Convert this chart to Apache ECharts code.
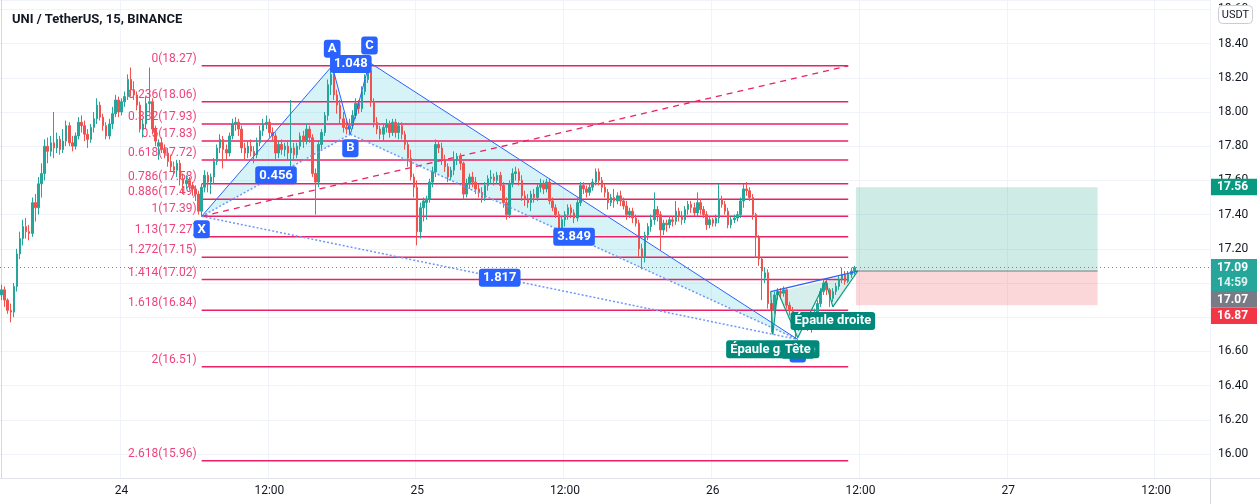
<!DOCTYPE html>
<html><head><meta charset="utf-8">
<script src="https://cdn.jsdelivr.net/npm/echarts@6/dist/echarts.min.js"></script>
<style>html,body{margin:0;padding:0;background:#fff}#c{width:1260px;height:504px}</style>
</head><body><div id="c"></div><script>
// ---------------- data ----------------
const ticker = 'UNI / TetherUS, 15, BINANCE';
const firstDay = 23;              // day of first slot
const firstSlotMinutes = 14 * 60 + 15; // 23 14:15
const slotCount = 393;            // 15-minute slots on the time axis (incl. future space)

// [open, close, low, high]
const candles = [
[16.93,16.96,16.90,16.99],[16.96,16.90,16.86,16.98],[16.90,16.84,16.82,16.91],[16.84,16.83,16.77,16.88],
[16.83,16.98,16.80,17.00],[16.98,17.17,16.95,17.20],[17.17,17.26,17.14,17.30],[17.26,17.33,17.22,17.37],
[17.33,17.30,17.26,17.38],[17.30,17.29,17.25,17.34],[17.29,17.47,17.27,17.50],[17.47,17.44,17.36,17.52],
[17.44,17.58,17.40,17.62],[17.58,17.64,17.50,17.70],[17.64,17.80,17.60,17.84],[17.80,17.77,17.70,17.85],
[17.77,17.82,17.74,17.86],[17.82,17.79,17.73,18.00],[17.79,17.84,17.76,17.88],[17.84,17.78,17.75,17.86],
[17.78,17.83,17.76,17.90],[17.83,17.92,17.80,17.95],[17.92,17.82,17.80,17.94],[17.82,17.80,17.77,17.86],
[17.80,17.86,17.78,17.88],[17.86,17.94,17.84,17.97],[17.94,17.92,17.88,17.98],[17.92,17.87,17.83,17.95],
[17.87,17.84,17.79,17.90],[17.84,17.91,17.82,17.93],[17.91,17.96,17.88,18.00],[17.96,18.04,17.93,18.08],
[18.04,17.97,17.95,18.06],[17.97,17.92,17.89,17.99],[17.92,17.86,17.84,17.94],[17.86,17.93,17.84,17.96],
[17.93,17.99,17.90,18.03],[17.99,18.07,17.97,18.10],[18.07,18.00,17.97,18.09],[18.00,18.06,17.98,18.08],
[18.06,18.09,18.03,18.12],[18.09,18.19,18.07,18.22],[18.19,18.13,18.09,18.26],[18.13,18.10,18.07,18.18],
[18.10,18.04,18.01,18.12],[18.04,17.90,17.88,18.06],[17.90,17.93,17.85,17.96],[17.93,18.05,17.90,18.09],
[18.05,18.06,18.00,18.26],[18.06,17.90,17.87,18.08],[17.90,17.83,17.80,17.92],[17.80,17.82,17.72,17.84],
[17.82,17.78,17.76,17.85],[17.78,17.76,17.73,17.81],[17.76,17.71,17.68,17.79],[17.71,17.68,17.65,17.75],
[17.68,17.66,17.63,17.71],[17.66,17.70,17.62,17.72],[17.70,17.61,17.57,17.72],[17.61,17.58,17.52,17.64],
[17.58,17.60,17.55,17.63],[17.60,17.57,17.54,17.62],[17.57,17.55,17.51,17.59],[17.55,17.52,17.48,17.57],
[17.52,17.42,17.40,17.54],[17.42,17.56,17.39,17.58],[17.56,17.63,17.53,17.66],[17.63,17.59,17.53,17.65],
[17.59,17.62,17.52,17.64],[17.62,17.71,17.58,17.73],[17.71,17.79,17.69,17.81],[17.79,17.84,17.76,17.87],
[17.84,17.78,17.67,17.86],[17.78,17.76,17.72,17.81],[17.76,17.86,17.74,17.88],[17.86,17.93,17.84,17.96],
[17.93,17.94,17.89,17.97],[17.94,17.90,17.86,17.96],[17.90,17.79,17.76,17.92],[17.79,17.76,17.72,17.82],
[17.76,17.80,17.73,17.83],[17.80,17.77,17.74,17.84],[17.77,17.75,17.70,17.80],[17.75,17.82,17.73,17.85],
[17.82,17.89,17.80,17.92],[17.89,17.93,17.86,17.96],[17.93,17.94,17.90,17.98],[17.94,17.88,17.85,17.96],
[17.88,17.86,17.83,17.91],[17.86,17.76,17.72,17.88],[17.76,17.81,17.73,17.83],[17.81,17.78,17.75,17.84],
[17.78,17.80,17.74,17.82],[17.80,17.76,17.72,17.83],[17.76,17.79,17.68,18.07],[17.79,17.75,17.72,17.82],
[17.75,17.80,17.73,17.82],[17.80,17.86,17.78,17.88],[17.86,17.83,17.79,17.89],[17.83,17.90,17.81,17.93],
[17.90,17.85,17.82,17.92],[17.85,17.64,17.62,17.87],[17.64,17.59,17.40,17.67],[17.59,17.81,17.56,17.83],
[17.81,17.88,17.78,17.90],[17.88,17.98,17.86,18.00],[17.98,18.16,17.95,18.19],[18.16,18.22,18.10,18.27],
[18.22,18.10,18.07,18.25],[18.10,18.04,17.99,18.13],[18.04,17.96,17.93,18.07],[17.96,17.91,17.88,18.00],
[17.91,17.90,17.87,17.95],[17.90,17.92,17.87,17.96],[17.92,17.98,17.90,18.01],[17.98,18.05,17.96,18.08],
[18.05,18.02,17.99,18.07],[18.02,18.12,18.00,18.15],[18.12,18.19,18.10,18.22],[18.19,18.24,18.17,18.29],
[18.24,18.06,18.03,18.26],[18.06,17.94,17.91,18.08],[17.94,17.90,17.87,17.97],[17.90,17.87,17.84,17.92],
[17.87,17.91,17.83,17.93],[17.91,17.93,17.88,17.96],[17.93,17.88,17.85,17.95],[17.88,17.94,17.86,17.96],
[17.94,17.88,17.85,17.96],[17.88,17.92,17.84,17.94],[17.92,17.87,17.84,17.94],[17.87,17.81,17.78,17.89],
[17.81,17.73,17.68,17.83],[17.73,17.62,17.60,17.78],[17.62,17.56,17.50,17.64],[17.56,17.30,17.22,17.60],
[17.30,17.44,17.26,17.47],[17.44,17.48,17.36,17.50],[17.47,17.49,17.37,17.51],[17.49,17.59,17.47,17.61],
[17.59,17.65,17.56,17.68],[17.65,17.81,17.62,17.84],[17.81,17.79,17.76,17.83],[17.79,17.72,17.69,17.82],
[17.72,17.68,17.65,17.75],[17.68,17.62,17.59,17.70],[17.62,17.66,17.60,17.68],[17.66,17.72,17.63,17.77],
[17.72,17.74,17.69,17.76],[17.74,17.70,17.66,17.76],[17.70,17.52,17.49,17.71],[17.52,17.58,17.50,17.61],
[17.58,17.62,17.55,17.64],[17.62,17.59,17.56,17.65],[17.59,17.55,17.52,17.62],[17.55,17.53,17.50,17.58],
[17.53,17.50,17.47,17.56],[17.50,17.57,17.48,17.59],[17.57,17.61,17.54,17.63],[17.61,17.62,17.58,17.66],
[17.62,17.60,17.57,17.64],[17.60,17.63,17.58,17.65],[17.63,17.57,17.54,17.65],[17.57,17.47,17.44,17.59],
[17.47,17.40,17.37,17.50],[17.40,17.58,17.38,17.60],[17.58,17.64,17.56,17.67],[17.64,17.65,17.60,17.68],
[17.65,17.60,17.57,17.67],[17.60,17.51,17.48,17.63],[17.51,17.49,17.45,17.54],[17.49,17.47,17.44,17.52],
[17.47,17.52,17.42,17.54],[17.52,17.50,17.47,17.55],[17.50,17.56,17.48,17.58],[17.56,17.58,17.53,17.61],
[17.58,17.55,17.52,17.60],[17.55,17.59,17.53,17.61],[17.59,17.48,17.46,17.61],[17.48,17.44,17.42,17.50],
[17.44,17.40,17.38,17.46],[17.40,17.32,17.29,17.42],[17.32,17.37,17.24,17.39],[17.37,17.40,17.33,17.42],
[17.40,17.44,17.37,17.46],[17.44,17.41,17.38,17.46],[17.41,17.38,17.35,17.43],[17.38,17.47,17.36,17.50],
[17.47,17.57,17.45,17.59],[17.57,17.55,17.52,17.59],[17.55,17.53,17.50,17.57],[17.53,17.56,17.51,17.58],
[17.56,17.59,17.54,17.61],[17.59,17.65,17.57,17.67],[17.65,17.60,17.57,17.67],[17.60,17.56,17.53,17.62],
[17.56,17.53,17.50,17.58],[17.53,17.47,17.43,17.55],[17.47,17.50,17.45,17.52],[17.50,17.48,17.44,17.55],
[17.48,17.51,17.46,17.53],[17.51,17.48,17.45,17.54],[17.48,17.45,17.43,17.50],[17.45,17.40,17.37,17.48],
[17.40,17.42,17.38,17.44],[17.42,17.38,17.35,17.44],[17.38,17.35,17.33,17.40],[17.35,17.20,17.15,17.37],
[17.20,17.15,17.08,17.23],[17.15,17.28,17.12,17.30],[17.28,17.33,17.25,17.35],[17.33,17.37,17.30,17.40],
[17.37,17.43,17.34,17.53],[17.43,17.40,17.36,17.45],[17.40,17.31,17.19,17.42],[17.31,17.35,17.28,17.37],
[17.35,17.34,17.30,17.37],[17.34,17.37,17.32,17.39],[17.37,17.36,17.33,17.39],[17.36,17.42,17.34,17.48],
[17.42,17.39,17.36,17.44],[17.39,17.37,17.34,17.42],[17.37,17.43,17.35,17.45],[17.43,17.46,17.40,17.48],
[17.46,17.44,17.41,17.48],[17.44,17.41,17.39,17.47],[17.41,17.47,17.39,17.53],[17.47,17.43,17.40,17.49],
[17.43,17.40,17.38,17.45],[17.40,17.34,17.31,17.42],[17.34,17.37,17.32,17.39],[17.37,17.35,17.33,17.38],
[17.35,17.38,17.33,17.40],[17.38,17.49,17.35,17.58],[17.49,17.46,17.44,17.51],[17.46,17.42,17.40,17.48],
[17.42,17.34,17.32,17.44],[17.34,17.37,17.32,17.39],[17.37,17.38,17.35,17.40],[17.38,17.40,17.36,17.42],
[17.40,17.48,17.38,17.50],[17.48,17.55,17.44,17.58],[17.55,17.54,17.51,17.59],[17.54,17.50,17.48,17.56],
[17.50,17.40,17.37,17.52],[17.40,17.27,17.15,17.41],[17.27,17.14,17.10,17.28],[17.14,17.07,16.90,17.15],
[17.03,17.06,17.00,17.09],[17.06,16.88,16.85,17.08],[16.88,16.84,16.71,16.90],[16.84,16.93,16.82,16.95],
[16.93,16.95,16.90,16.97],[16.95,16.94,16.91,16.97],[16.94,16.96,16.92,16.98],[16.96,16.87,16.85,16.97],
[16.87,16.84,16.81,16.89],[16.84,16.76,16.74,16.86],[16.76,16.75,16.67,16.79],[16.75,16.79,16.72,16.81],
[16.79,16.75,16.73,16.82],[16.75,16.79,16.73,16.81],[16.79,16.74,16.72,16.81],[16.74,16.76,16.71,16.78],
[16.76,16.83,16.74,16.85],[16.83,16.88,16.80,16.90],[16.88,16.95,16.86,16.97],[16.95,17.00,16.93,17.02],
[17.00,16.96,16.93,17.02],[16.96,16.91,16.86,16.97],[16.91,16.95,16.89,16.97],[16.95,16.98,16.93,17.00],
[16.98,17.02,16.96,17.04],[17.02,17.05,17.00,17.09],[17.05,17.01,16.99,17.07],[17.01,17.05,17.00,17.07],
[17.05,17.07,17.03,17.09],[17.07,17.09,17.05,17.10]
];

// Fibonacci retracement (drawn from X to the right)
const fibRatioText = ['0','0.236','0.382','0.5','0.618','0.786','0.886','1','1.13','1.272','1.414','1.618','2','2.618'];
const fibPrices = [18.27,18.06,17.93,17.83,17.72,17.58,17.49,17.39,17.27,17.15,17.02,16.84,16.51,15.96];
const fibFromBar = 65, fibToBar = 275;

// XABCD pattern
const xabcdNames = ['X','A','B','C','D'];
const xabcdBars = [65, 107.4, 113.3, 119.5, 258.6];
const xabcdPrices = [17.39, 18.27, 17.87, 18.29, 16.67];
const xabcdRatios = ['0.456','1.048','3.849','1.817']; // on XB, AC, BD, XD

// dashed trend line
const trendBars = [65, 275];
const trendPrices = [17.39, 18.27];

// Head & shoulders: start, left shoulder, neck 1, head, neck 2, right shoulder, end
const hsBars = [249.8, 250.5, 252.1, 258.6, 267.7, 270.0, 278.1];
const hsPrices = [16.95, 16.70, 16.95, 16.68, 17.01, 16.86, 17.07];
const hsNames = ['Épaule gauche', 'Tête', 'Épaule droite'];

// long position
const posBars = [277.5, 356];
const posTarget = 17.56, posEntry = 17.07, posStop = 16.87;

const lastPrice = 17.09, countdown = '14:59';

// ---------------- chart ----------------
const FONT = 'Roboto, "Noto Sans", sans-serif';
const slotLabels = [];
for (let i = 0; i < slotCount; i++) {
  const m = firstSlotMinutes + 15 * i;
  const d = firstDay + Math.floor(m / 1440);
  const mm = m % 1440;
  const hh = String(Math.floor(mm / 60)).padStart(2, '0');
  const mi = String(mm % 60).padStart(2, '0');
  slotLabels.push(d + ' ' + hh + ':' + mi);
}
const isMajor = v => v.endsWith(' 00:00') || v.endsWith(' 12:00');

const chart = echarts.init(document.getElementById('c'), null, {renderer: 'canvas'});

const BLUE = '#2962ff', BLUE_DOT = '#6f97f8', FIB = '#ec2163', TEAL = '#089981';

function pts(api, bars, prices) { return bars.map((b, k) => api.coord([b, prices[k]])); }
function boxText(text, x, y, bg, z) {
  return {type: 'text', z2: z || 0, style: {text, x, y, align: 'center', verticalAlign: 'middle',
    textAlign: 'center', textVerticalAlign: 'middle', fill: '#fff', font: 'bold 13px ' + FONT,
    backgroundColor: bg, padding: [3, 4, 2, 4], borderRadius: 3}};
}

const option = {
  animation: false,
  backgroundColor: '#ffffff',
  title: {text: ticker, left: 7, top: 8, textStyle: {fontSize: 13, fontWeight: 'bold', color: '#131722', fontFamily: FONT}},
  grid: {left: 0, right: 50, top: 0, bottom: 26, containLabel: false},
  xAxis: [{
    type: 'category', data: slotLabels, boundaryGap: true,
    axisLine: {lineStyle: {color: '#e0e3eb'}}, axisTick: {show: false},
    axisLabel: {interval: (i, v) => isMajor(v), formatter: v => v.endsWith(' 00:00') ? v.split(' ')[0] : '12:00',
      color: '#131722', fontSize: 12, fontFamily: FONT, margin: 7},
    splitLine: {show: true, interval: (i, v) => isMajor(v), lineStyle: {color: '#f0f3fa'}}
  }, {
    type: 'value', min: -0.5, max: slotCount - 0.5, show: false
  }],
  yAxis: {
    type: 'value', position: 'right', scale: true,
    min: 15.8596, max: 18.655, splitNumber: 14, minInterval: 0.2, maxInterval: 0.2,
    axisLine: {show: true, lineStyle: {color: '#d6d8de'}}, axisTick: {show: false},
    axisLabel: {showMinLabel: false, showMaxLabel: false, formatter: v => v.toFixed(2),
      color: '#131722', fontSize: 12, fontFamily: FONT, margin: 8},
    splitLine: {show: true, lineStyle: {color: '#f0f3fa'}}
  },
  graphic: [
    {type: 'rect', z: 100, shape: {x: 1218.5, y: 5.5, width: 34, height: 18, r: 4}, style: {fill: '#fff', stroke: '#c9ccd4', lineWidth: 1}},
    {type: 'text', z: 101, style: {text: 'USDT', x: 1235.5, y: 15, align: 'center', verticalAlign: 'middle', textAlign: 'center', textVerticalAlign: 'middle', fill: '#131722', font: '11px ' + FONT}},
    {type: 'line', z: 100, shape: {x1: 1210.5, y1: 478, x2: 1210.5, y2: 504}, style: {stroke: '#d6d8de', lineWidth: 1}},
    {type: 'line', z: 100, shape: {x1: 1210, y1: 478.5, x2: 1260, y2: 478.5}, style: {stroke: '#e0e3eb', lineWidth: 1}}
  ],
  series: [
    // fills below candles
    {
      type: 'custom', xAxisIndex: 1, z: 1, silent: true, data: [[0, lastPrice]],
      renderItem: (params, api) => {
        const p = pts(api, xabcdBars, xabcdPrices);
        const h = pts(api, hsBars, hsPrices);
        const g1 = api.coord([posBars[0], posTarget]), g2 = api.coord([posBars[1], posEntry]);
        const r2 = api.coord([posBars[1], posStop]);
        const fill = 'rgba(0,188,212,0.16)', hsFill = 'rgba(0,150,136,0.16)';
        return {type: 'group', children: [
          {type: 'polygon', shape: {points: [p[0], p[1], p[2]]}, style: {fill}},
          {type: 'polygon', shape: {points: [p[2], p[3], p[4]]}, style: {fill}},
          {type: 'polygon', shape: {points: [h[0], h[1], h[2]]}, style: {fill: hsFill}},
          {type: 'polygon', shape: {points: [h[2], h[3], h[4]]}, style: {fill: hsFill}},
          {type: 'polygon', shape: {points: [h[4], h[5], h[6]]}, style: {fill: hsFill}},
          {type: 'rect', shape: {x: g1[0], y: g1[1], width: g2[0] - g1[0], height: g2[1] - g1[1]}, style: {fill: 'rgba(8,153,129,0.2)'}},
          {type: 'rect', shape: {x: g1[0], y: g2[1], width: g2[0] - g1[0], height: r2[1] - g2[1]}, style: {fill: 'rgba(242,54,69,0.2)'}},
          {type: 'line', shape: {x1: g1[0], y1: g2[1], x2: g2[0], y2: g2[1]}, style: {stroke: '#787b86', lineWidth: 1}}
        ]};
      }
    },
    // fibonacci levels + trend line
    {
      type: 'custom', xAxisIndex: 1, z: 2, silent: true,
      data: fibPrices.map((p, k) => [fibFromBar, p, k]),
      renderItem: (params, api) => {
        const k = api.value(2);
        const a = api.coord([fibFromBar, fibPrices[k]]), b = api.coord([fibToBar, fibPrices[k]]);
        const ch = [
          {type: 'line', shape: {x1: a[0], y1: a[1], x2: b[0], y2: b[1]}, style: {stroke: FIB, lineWidth: 1.5}},
          {type: 'text', style: {text: fibRatioText[k] + '(' + fibPrices[k].toFixed(2) + ')', x: a[0] - 5, y: a[1] - 7,
            align: 'right', verticalAlign: 'middle', textAlign: 'right', textVerticalAlign: 'middle',
            fill: 'rgba(236,33,99,0.85)', font: '12px ' + FONT}}
        ];
        if (k === 0) {
          const t = pts(api, trendBars, trendPrices);
          ch.push({type: 'line', shape: {x1: t[0][0], y1: t[0][1], x2: t[1][0], y2: t[1][1]},
            style: {stroke: FIB, lineWidth: 1.3, lineDash: [6, 5]}});
        }
        return {type: 'group', children: ch};
      }
    },
    // candles
    {
      type: 'candlestick', xAxisIndex: 0, z: 3, data: candles, barWidth: 2,
      itemStyle: {color: '#26a69a', color0: '#ef5350', borderColor: '#26a69a', borderColor0: '#ef5350', borderWidth: 1},
      markLine: {silent: true, symbol: 'none', label: {show: false},
        lineStyle: {color: '#26a69a', type: [1, 3], width: 1}, data: [{yAxis: lastPrice}]}
    },
    // pattern lines + labels
    {
      type: 'custom', xAxisIndex: 1, z: 4, silent: true, data: [[0, lastPrice]],
      renderItem: (params, api) => {
        const p = pts(api, xabcdBars, xabcdPrices);
        const h = pts(api, hsBars, hsPrices);
        const L = (a, b, stroke, w, dash) => ({type: 'line', shape: {x1: a[0], y1: a[1], x2: b[0], y2: b[1]},
          style: {stroke, lineWidth: w, lineDash: dash || null}});
        const mid = (a, b) => [(a[0] + b[0]) / 2, (a[1] + b[1]) / 2];
        const ch = [
          L(p[0], p[2], BLUE_DOT, 1.5, [2, 2]), L(p[1], p[3], BLUE_DOT, 1.5, [2, 2]),
          L(p[2], p[4], BLUE_DOT, 1.5, [2, 2]), L(p[0], p[4], BLUE_DOT, 1.5, [2, 2]),
          L(p[0], p[1], BLUE, 1), L(p[1], p[2], BLUE, 1), L(p[2], p[3], BLUE, 1), L(p[3], p[4], BLUE, 1),
          L(h[0], h[6], BLUE, 1.3)
        ];
        for (let k = 0; k < 6; k++) ch.push(L(h[k], h[k + 1], TEAL, 1.2));
        const pairs = [[0, 2], [1, 3], [2, 4], [0, 4]];
        pairs.forEach((pr, k) => { const m = mid(p[pr[0]], p[pr[1]]); ch.push(boxText(xabcdRatios[k], m[0], m[1], BLUE)); });
        const off = [13, -17, 14, -17, 14];
        xabcdNames.forEach((n, k) => ch.push(boxText(n, p[k][0], p[k][1] + off[k], BLUE)));
        const hsOff = [15, 12, 14];
        [1, 3, 5].forEach((idx, k) => ch.push(boxText(hsNames[k], h[idx][0], h[idx][1] + hsOff[k], '#00897b', k + 1)));
        return {type: 'group', children: ch};
      }
    },
    // right-axis price tags
    {
      type: 'custom', xAxisIndex: 1, z: 6, silent: true, data: [[0, lastPrice]],
      renderItem: (params, api) => {
        const cs = params.coordSys;
        const x0 = cs.x + cs.width + 1;
        const tags = [
          {p: posTarget, color: TEAL, lines: [posTarget.toFixed(2)]},
          {p: lastPrice, color: '#26a69a', lines: [lastPrice.toFixed(2), countdown]},
          {p: posEntry, color: '#787b86', lines: [posEntry.toFixed(2)]},
          {p: posStop, color: '#f23645', lines: [posStop.toFixed(2)]}
        ];
        let prevBottom = -1e9; const ch = [];
        tags.forEach(t => {
          const y = api.coord([0, t.p])[1];
          const hgt = t.lines.length === 1 ? 16.5 : 32;
          const top = Math.max(y - 8.5, prevBottom);
          prevBottom = top + hgt;
          ch.push({type: 'rect', shape: {x: x0, y: top, width: 46, height: hgt}, style: {fill: t.color}});
          t.lines.forEach((s, j) => ch.push({type: 'text', style: {text: s, x: x0 + 6, y: top + 8.5 + j * 15,
            align: 'left', verticalAlign: 'middle', textAlign: 'left', textVerticalAlign: 'middle',
            fill: j ? 'rgba(255,255,255,0.85)' : '#fff', font: 'bold 12px ' + FONT}}));
        });
        return {type: 'group', children: ch};
      }
    }
  ]
};
chart.setOption(option);
</script></body></html>
